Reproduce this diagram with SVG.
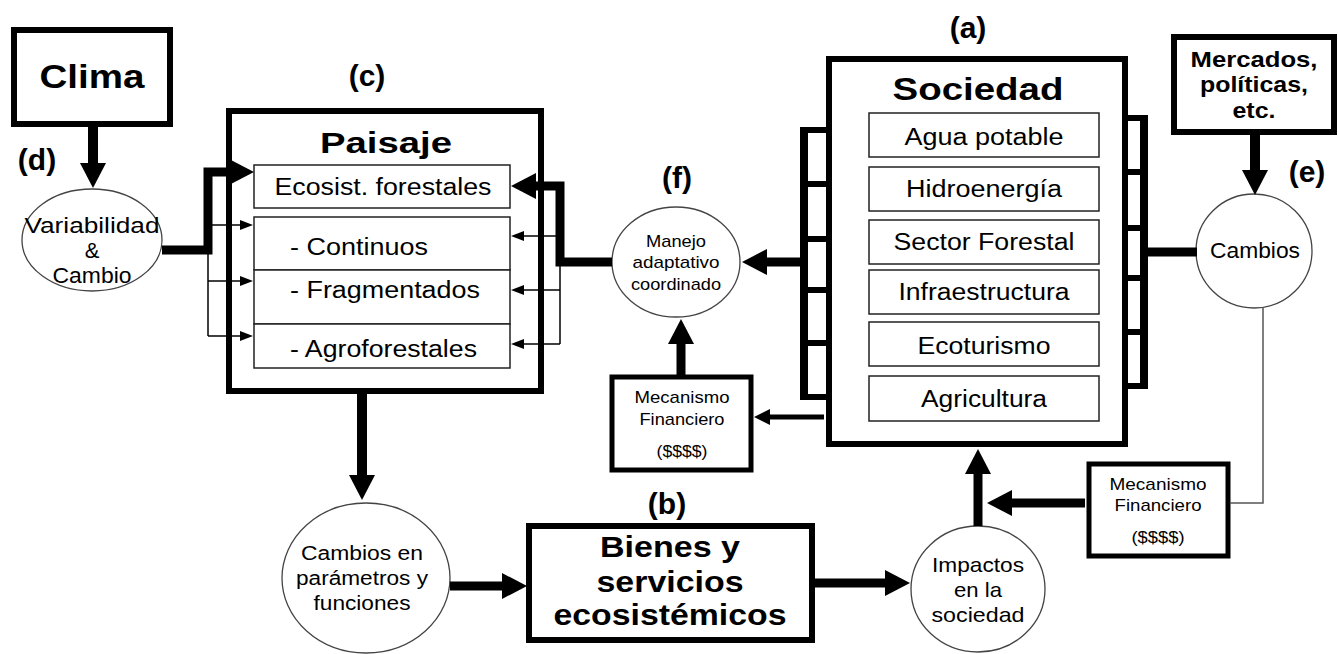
<svg xmlns="http://www.w3.org/2000/svg" width="1338" height="654" viewBox="0 0 1338 654">
<defs>
<style>
text{font-family:"Liberation Sans",Arial,sans-serif;fill:#000}
.b{font-weight:bold}
.c{text-anchor:middle}
.box{fill:#fff;stroke:#000;stroke-width:6}
.mbox{fill:#fff;stroke:#000;stroke-width:5}
.inner{fill:#fff;stroke:#222;stroke-width:1.5}
.ell{fill:#fff;stroke:#444;stroke-width:1.3}
.thick{fill:none;stroke:#000;stroke-width:9}
.thin{fill:none;stroke:#000;stroke-width:1.5}
.grey{fill:none;stroke:#555;stroke-width:1.5}
.lbl{font-size:30px;font-weight:bold;text-anchor:middle}
.t17{font-size:17px;text-anchor:middle}
.t23{font-size:23px}
</style>
<marker id="big" viewBox="0 0 25 26" refX="1" refY="13" markerWidth="25" markerHeight="26" markerUnits="userSpaceOnUse" orient="auto"><path d="M0,0 L25,13 L0,26 z" fill="#000"/></marker>
<marker id="med" viewBox="0 0 16 16" refX="1" refY="8" markerWidth="16" markerHeight="16" markerUnits="userSpaceOnUse" orient="auto"><path d="M0,0 L16,8 L0,16 z" fill="#000"/></marker>
<marker id="sm" viewBox="0 0 13 10" refX="1" refY="5" markerWidth="13" markerHeight="10" markerUnits="userSpaceOnUse" orient="auto"><path d="M0,0 L13,5 L0,10 z" fill="#000"/></marker>
</defs>
<rect width="1338" height="654" fill="#fff"/>

<g id="clima">
<rect class="box" x="14" y="30" width="156" height="94"/>
<text class="b c" x="92" y="88" font-size="34" textLength="105" lengthAdjust="spacingAndGlyphs">Clima</text>
</g>
<g id="label-d"><text class="lbl" x="37" y="170">(d)</text></g>
<g id="variabilidad">
<ellipse class="ell" cx="92" cy="240" rx="70" ry="51"/>
<text class="c" x="92" y="233" font-size="22" textLength="135" lengthAdjust="spacingAndGlyphs">Variabilidad</text>
<text class="c" x="92" y="258" font-size="22">&amp;</text>
<text class="c" x="92" y="283" font-size="22" textLength="79" lengthAdjust="spacingAndGlyphs">Cambio</text>
</g>

<g id="label-c"><text class="lbl" x="367" y="86">(c)</text></g>
<g id="paisaje">
<rect class="box" x="229" y="111" width="312" height="280"/>
<text class="b c" x="386" y="153" font-size="30" textLength="132" lengthAdjust="spacingAndGlyphs">Paisaje</text>
<rect class="inner" x="254" y="165" width="256" height="43"/>
<text class="t23 c" x="383" y="195" textLength="217" lengthAdjust="spacingAndGlyphs">Ecosist. forestales</text>
<rect class="inner" x="254" y="217" width="256" height="53"/>
<rect class="inner" x="254" y="270" width="256" height="54"/>
<rect class="inner" x="254" y="324" width="256" height="44"/>
<text class="t23" x="290" y="255" textLength="138" lengthAdjust="spacingAndGlyphs">- Continuos</text>
<text class="t23" x="290" y="298" textLength="190" lengthAdjust="spacingAndGlyphs">- Fragmentados</text>
<text class="t23" x="290" y="357" textLength="187" lengthAdjust="spacingAndGlyphs">- Agroforestales</text>
</g>

<g id="label-f"><text class="lbl" x="677" y="188">(f)</text></g>
<g id="manejo">
<ellipse class="ell" cx="676" cy="262" rx="64" ry="55"/>
<text class="t17" x="676" y="247" textLength="60" lengthAdjust="spacingAndGlyphs">Manejo</text>
<text class="t17" x="676" y="268" textLength="87" lengthAdjust="spacingAndGlyphs">adaptativo</text>
<text class="t17" x="676" y="290" textLength="90" lengthAdjust="spacingAndGlyphs">coordinado</text>
</g>

<g id="mecanismo-1">
<rect class="mbox" x="612" y="377" width="139" height="93"/>
<text class="t17" x="682" y="403" textLength="95" lengthAdjust="spacingAndGlyphs">Mecanismo</text>
<text class="t17" x="682" y="425" textLength="85" lengthAdjust="spacingAndGlyphs">Financiero</text>
<text class="t17" x="682" y="457" textLength="51" lengthAdjust="spacingAndGlyphs">($$$$)</text>
</g>

<g id="label-a"><text class="lbl" x="968" y="38">(a)</text></g>
<g id="sociedad">
<rect class="box" x="829" y="59" width="296" height="385"/>
<text class="b c" x="978" y="100" font-size="32" textLength="171" lengthAdjust="spacingAndGlyphs">Sociedad</text>
<rect class="inner" x="869" y="113" width="230" height="44"/>
<rect class="inner" x="869" y="167" width="230" height="44"/>
<rect class="inner" x="869" y="220" width="230" height="44"/>
<rect class="inner" x="869" y="270" width="230" height="44"/>
<rect class="inner" x="869" y="322" width="230" height="44"/>
<rect class="inner" x="869" y="376" width="230" height="45"/>
<text class="t23 c" x="984" y="145" textLength="159" lengthAdjust="spacingAndGlyphs">Agua potable</text>
<text class="t23 c" x="984" y="197" textLength="156" lengthAdjust="spacingAndGlyphs">Hidroenergía</text>
<text class="t23 c" x="984" y="250" textLength="181" lengthAdjust="spacingAndGlyphs">Sector Forestal</text>
<text class="t23 c" x="984" y="300" textLength="171" lengthAdjust="spacingAndGlyphs">Infraestructura</text>
<text class="t23 c" x="984" y="354" textLength="133" lengthAdjust="spacingAndGlyphs">Ecoturismo</text>
<text class="t23 c" x="984" y="407" textLength="126" lengthAdjust="spacingAndGlyphs">Agricultura</text>
</g>

<g id="mercados">
<rect class="box" x="1174" y="37" width="160" height="95"/>
<text class="b c" x="1254" y="67" font-size="22" textLength="127" lengthAdjust="spacingAndGlyphs">Mercados,</text>
<text class="b c" x="1254" y="92" font-size="22" textLength="108" lengthAdjust="spacingAndGlyphs">políticas,</text>
<text class="b c" x="1254" y="118" font-size="22" textLength="43" lengthAdjust="spacingAndGlyphs">etc.</text>
</g>
<g id="label-e"><text class="lbl" x="1307" y="182">(e)</text></g>
<g id="cambios">
<ellipse class="ell" cx="1254" cy="251" rx="58" ry="57"/>
<text class="c" x="1255" y="258" font-size="22" textLength="90" lengthAdjust="spacingAndGlyphs">Cambios</text>
</g>

<g id="mecanismo-2">
<rect class="mbox" x="1089" y="464" width="139" height="92"/>
<text class="t17" x="1158" y="490" textLength="97" lengthAdjust="spacingAndGlyphs">Mecanismo</text>
<text class="t17" x="1158" y="511" textLength="87" lengthAdjust="spacingAndGlyphs">Financiero</text>
<text class="t17" x="1158" y="543" textLength="53" lengthAdjust="spacingAndGlyphs">($$$$)</text>
</g>

<g id="cambios-parametros">
<ellipse class="ell" cx="366" cy="578" rx="84" ry="75"/>
<text class="c" x="362" y="560" font-size="20" textLength="122" lengthAdjust="spacingAndGlyphs">Cambios en</text>
<text class="c" x="362" y="585" font-size="20" textLength="132" lengthAdjust="spacingAndGlyphs">parámetros y</text>
<text class="c" x="362" y="610" font-size="20" textLength="97" lengthAdjust="spacingAndGlyphs">funciones</text>
</g>

<g id="label-b"><text class="lbl" x="667" y="514">(b)</text></g>
<g id="bienes">
<rect class="box" x="529" y="526" width="283" height="114"/>
<text class="b c" x="670" y="557" font-size="30" textLength="140" lengthAdjust="spacingAndGlyphs">Bienes y</text>
<text class="b c" x="670" y="592" font-size="30" textLength="147" lengthAdjust="spacingAndGlyphs">servicios</text>
<text class="b c" x="670" y="625" font-size="30" textLength="233" lengthAdjust="spacingAndGlyphs">ecosistémicos</text>
</g>

<g id="impactos">
<ellipse class="ell" cx="978" cy="589" rx="67" ry="63"/>
<text class="c" x="978" y="572" font-size="21" textLength="92" lengthAdjust="spacingAndGlyphs">Impactos</text>
<text class="c" x="978" y="597" font-size="21" textLength="48" lengthAdjust="spacingAndGlyphs">en la</text>
<text class="c" x="978" y="622" font-size="21" textLength="93" lengthAdjust="spacingAndGlyphs">sociedad</text>
</g>

<g id="connectors">
<path class="thick" style="stroke-width:10" d="M93,127 V164" marker-end="url(#big)"/>
<path class="thick" d="M162,250 H208 V172 H230" marker-end="url(#big)"/>
<path class="thin" d="M208,176 V336"/>
<path class="thin" d="M208,225 H241" marker-end="url(#sm)"/>
<path class="thin" d="M208,281 H241" marker-end="url(#sm)"/>
<path class="thin" d="M208,336 H241" marker-end="url(#sm)"/>
<path class="thick" d="M612,262 H560 V186 H535" marker-end="url(#big)"/>
<path class="thin" d="M560,190 V344"/>
<path class="thin" d="M560,236 H523" marker-end="url(#sm)"/>
<path class="thin" d="M560,290 H523" marker-end="url(#sm)"/>
<path class="thin" d="M560,344 H523" marker-end="url(#sm)"/>
<path class="thick" style="stroke-width:8" d="M804,127 V400"/>
<path class="thick" style="stroke-width:6" d="M804,130 H830 M804,184 H830 M804,239 H830 M804,290 H830 M804,343 H830 M804,397 H830"/>
<path class="thick" d="M804,262 H766" marker-end="url(#big)"/>
<path class="thick" style="stroke-width:5" d="M824,417 H769" marker-end="url(#med)"/>
<path class="thick" d="M681,375 V343" marker-end="url(#big)"/>
<path class="thick" style="stroke-width:8" d="M1144,115 V389"/>
<path class="thick" style="stroke-width:6" d="M1124,118 H1144 M1124,172 H1144 M1124,228 H1144 M1124,278 H1144 M1124,332 H1144 M1124,386 H1144"/>
<path class="thick" d="M1144,252 H1197"/>
<path class="thick" style="stroke-width:10" d="M1255,135 V171" marker-end="url(#big)"/>
<path class="grey" d="M1263,307 V503 H1230"/>
<path class="thick" d="M1085,503 H1011" marker-end="url(#big)"/>
<path class="thick" d="M978,526 V473" marker-end="url(#big)"/>
<path class="thick" style="stroke-width:10" d="M362,394 V476" marker-end="url(#big)"/>
<path class="thick" d="M450,586 H503" marker-end="url(#big)"/>
<path class="thick" d="M815,583 H886" marker-end="url(#big)"/>
</g>
</svg>
